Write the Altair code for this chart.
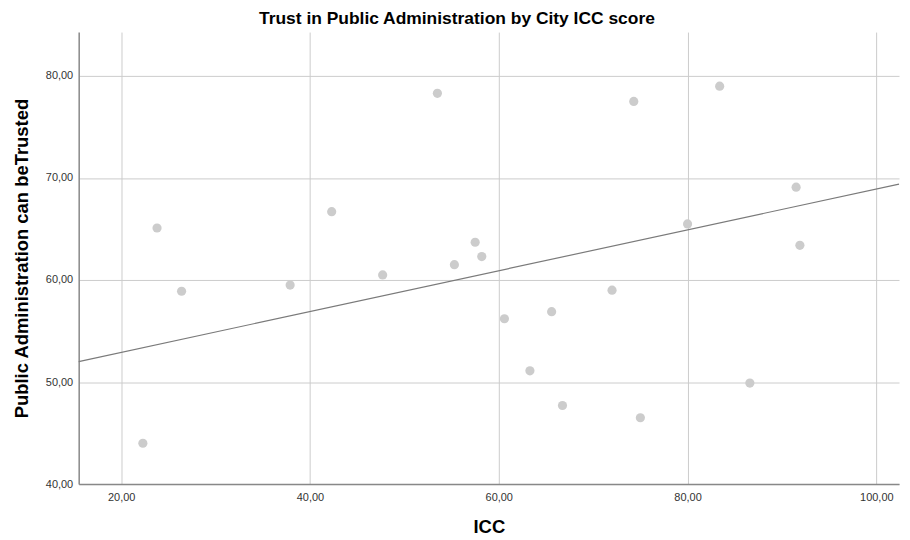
import altair as alt
import pandas as pd

# Data
icc = [22.3, 23.8, 26.4, 37.9, 42.3, 47.7, 53.5, 55.3, 57.5, 58.2, 60.6,
       63.3, 65.6, 66.75, 72.0, 74.3, 75.0, 80.0, 83.4, 86.6, 91.5, 91.9]
trust = [44.0, 65.1, 58.9, 59.5, 66.7, 60.5, 78.3, 61.5, 63.7, 62.3, 56.2,
         51.1, 56.9, 47.7, 59.0, 77.5, 46.5, 65.5, 79.0, 49.9, 69.1, 63.4]
# Fit line as drawn in the reference (read at the plot edges)
fit_icc = [15.5, 102.4]
fit_trust = [52.0, 69.4]
x_ticks = [20, 40, 60, 80, 100]
y_ticks = [40, 50, 60, 70, 80]

df = pd.DataFrame({"icc": icc, "trust": trust})
fit_df = pd.DataFrame({"icc": fit_icc, "trust": fit_trust})

FONT = "Liberation Sans"
x_dom = [15.5, 102.4]
y_dom = [40, 84.3]

label_expr = "replace(format(datum.value, '.2f'), '.', ',')"

x_scale = alt.Scale(domain=x_dom, nice=False, zero=False)
y_scale = alt.Scale(domain=y_dom, nice=False, zero=False)

x_enc = alt.X(
    "icc:Q",
    title="ICC",
    scale=x_scale,
    axis=alt.Axis(values=x_ticks, labelExpr=label_expr, ticks=False,
                  labelPadding=8, titlePadding=15, grid=True),
)
y_enc = alt.Y(
    "trust:Q",
    title="Public Administration can beTrusted",
    scale=y_scale,
    axis=alt.Axis(values=y_ticks, labelExpr=label_expr, ticks=False,
                  labelPadding=6, titlePadding=14, grid=True),
)

points = alt.Chart(df).mark_circle(size=85, color="#cccccc", opacity=1).encode(
    x=x_enc, y=y_enc
)

line = alt.Chart(fit_df).mark_line(color="#7a7a7a", strokeWidth=1.2).encode(
    x=alt.X("icc:Q", scale=x_scale),
    y=alt.Y("trust:Q", scale=y_scale),
)

chart = alt.layer(points, line).properties(
    width=824,
    height=454,
    padding={"left": 4, "top": 0, "right": 0, "bottom": 0},
    title=alt.TitleParams(
        "Trust in Public Administration by City ICC score",
        font=FONT, fontSize=17.5, fontWeight="bold", color="#000000",
        anchor="middle", frame="bounds", offset=5,
    ),
).configure_view(
    stroke=None
).configure_axis(
    labelFont=FONT, labelFontSize=11, labelColor="#333333",
    titleFont=FONT, titleFontSize=18.5, titleFontWeight="bold", titleColor="#000000",
    gridColor="#cccccc", gridWidth=1, gridOpacity=1,
    domainColor="#888888", domainWidth=1.5,
)

chart.save("out.html", embed_options={"renderer": "svg", "actions": False})
